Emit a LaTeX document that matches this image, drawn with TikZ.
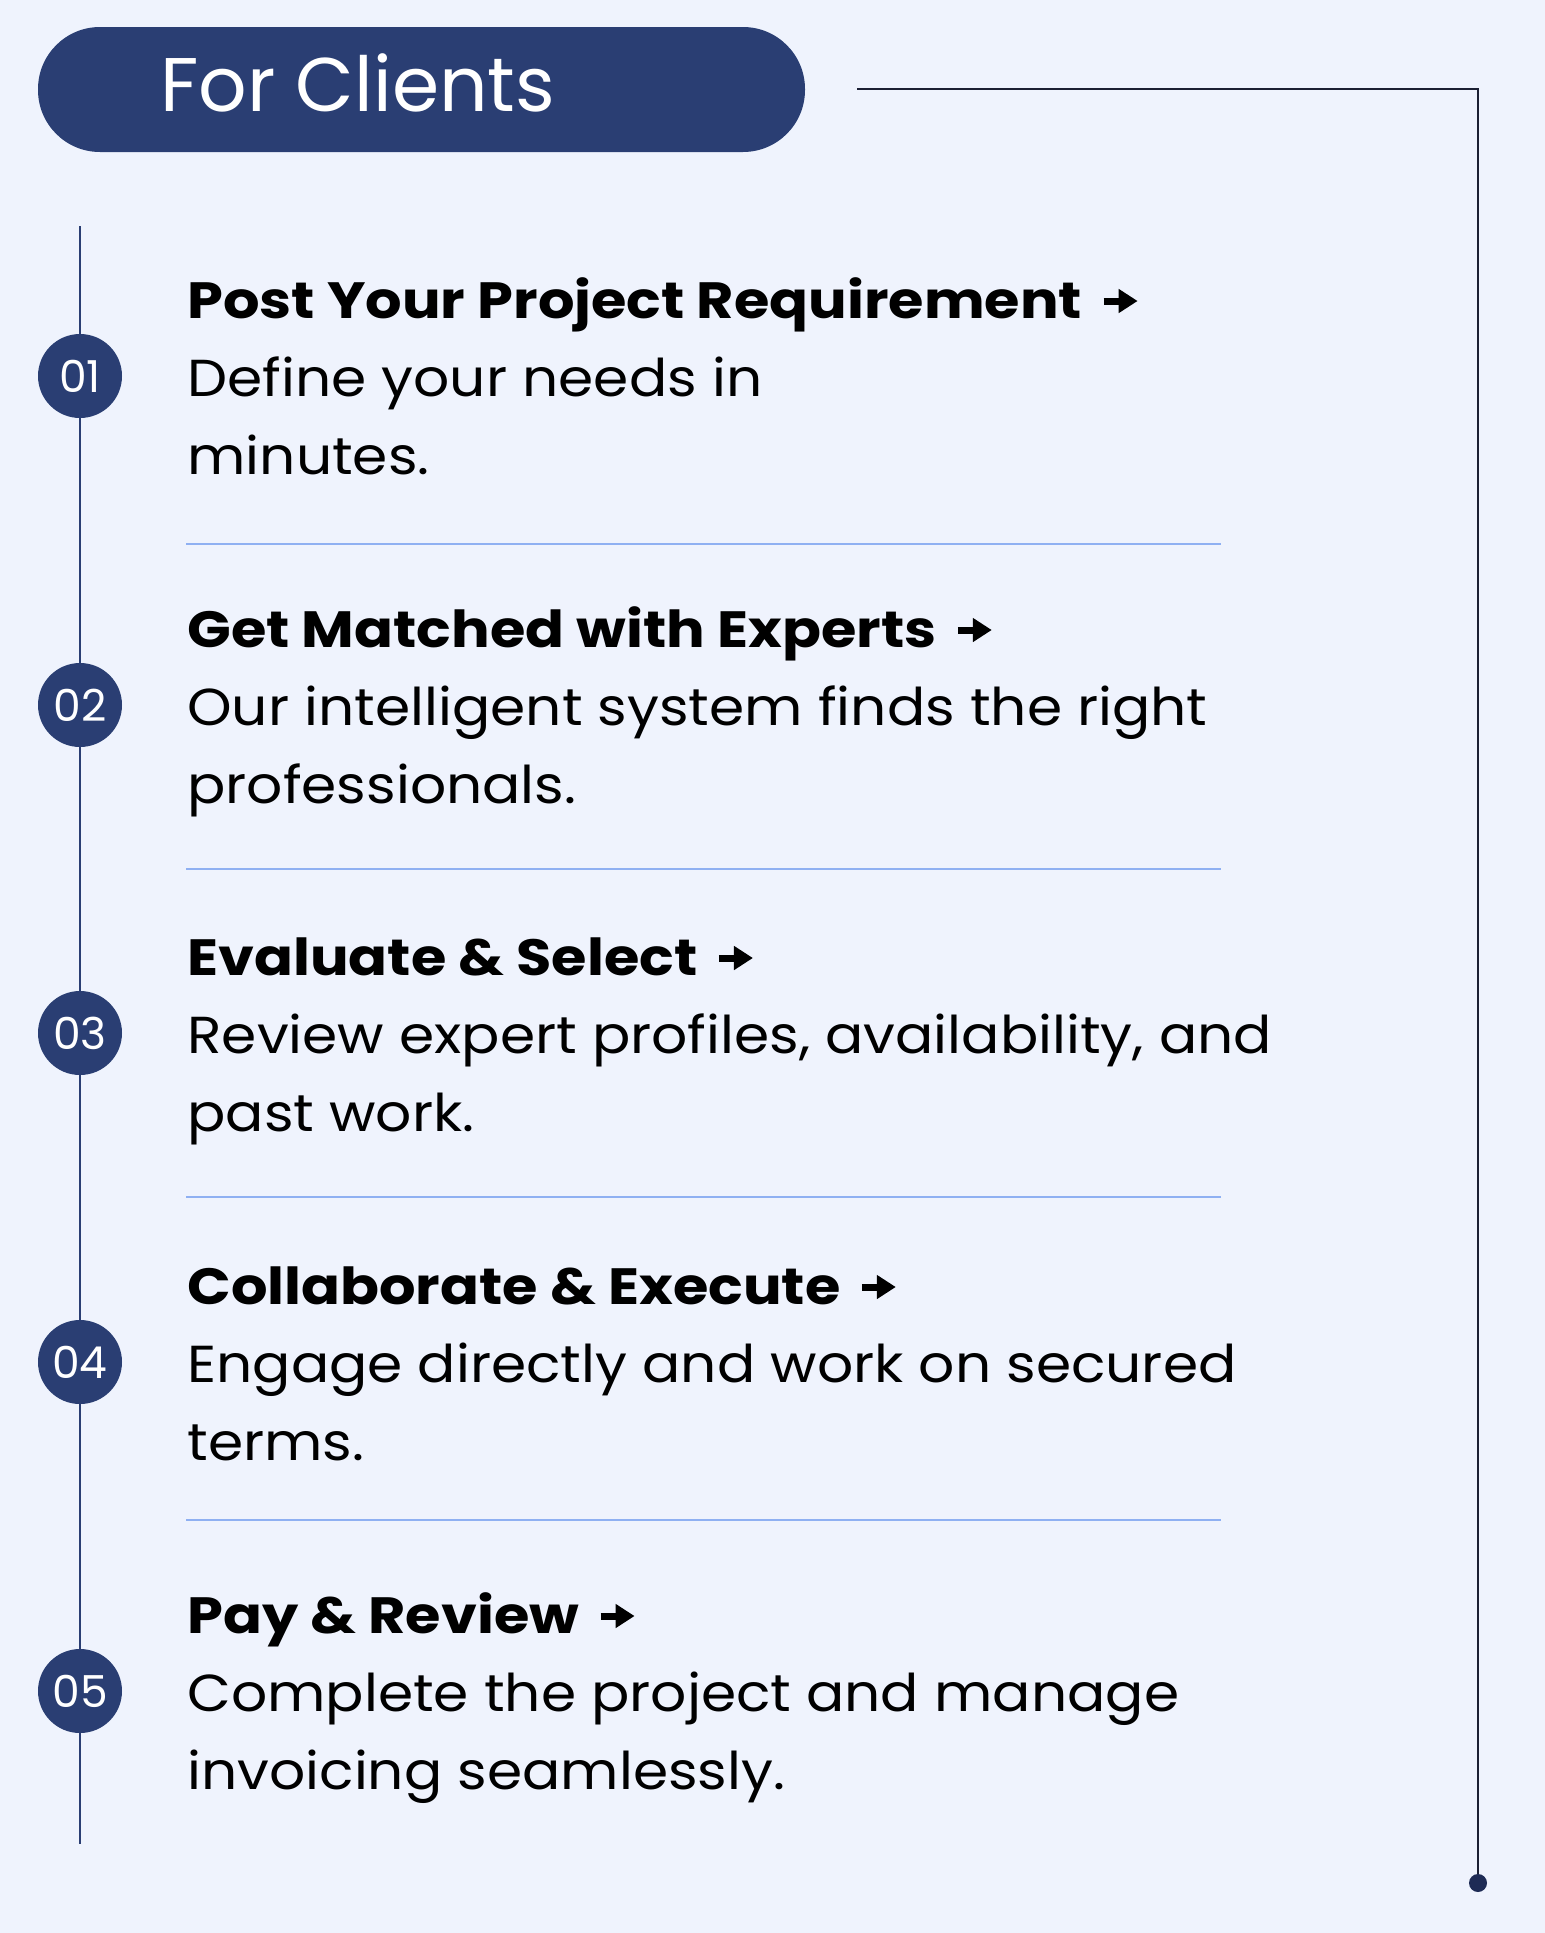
\documentclass[tikz,border=0pt]{standalone}
\usepackage{fontspec}
\setmainfont{Poppins}
\newfontfamily\bodyfont[FakeStretch=1.09]{Poppins}
\newfontfamily\titlefont[FakeStretch=1.125]{Poppins Bold}
\usetikzlibrary{arrows.meta}
\definecolor{bgc}{RGB}{239,243,253}
\definecolor{navy}{RGB}{42,62,115}
\definecolor{sepc}{RGB}{143,176,242}
\definecolor{darkline}{RGB}{27,31,51}
\definecolor{dotc}{RGB}{30,43,85}
\tikzset{
  headtext/.style={anchor=base west,inner sep=0,text=white,font=\fontsize{38}{44}\selectfont},
  circ/.style={circle,fill=navy,minimum size=42pt,inner sep=0,text=white,font=\fontsize{22}{24}\selectfont},
  ttl/.style={anchor=base west,inner sep=0,font=\titlefont\fontsize{25.5}{30}\selectfont},
  bdy/.style={anchor=base west,inner sep=0,font=\bodyfont\fontsize{26}{30}\selectfont},
  sep/.style={draw=sepc,line width=1pt},
  vline/.style={draw=navy,line width=1pt},
  tarrow/.style={line width=3.5pt,-{Triangle[length=9.5pt,width=11.5pt]}},
}
\begin{document}
\begin{tikzpicture}[x=0.5pt,y=-0.5pt]
\fill[bgc] (0,0) rectangle (1545,1933);
\useasboundingbox (0,0) rectangle (1545,1933);
% header
\node[fill=navy,rounded corners=31pt,minimum width=383.5pt,minimum height=62.5pt,inner sep=0] (head) at (421.5,89.5) {};
\node[headtext] (headt) at (160,111) {For Clients};
% right connector
\coordinate (rstart) at (857,89);
\node[circle,fill=dotc,minimum size=9pt,inner sep=0] (enddot) at (1478,1883) {};
\draw[darkline,line width=1.1pt] (rstart) -| (enddot);
% left timeline
\coordinate (ltop) at (80,226);
\coordinate (lbot) at (80,1844);
\draw[vline] (ltop) -- (lbot);
% items
\node[circ] (c1) at (80,376) {01};
\node[circ] (c2) at (80,705) {02};
\node[circ] (c3) at (80,1033) {03};
\node[circ] (c4) at (80,1362) {04};
\node[circ] (c5) at (80,1691) {05};
\node[ttl] (t1) at (187,318) {Post Your Project Requirement};
\node[bdy] (b1a) at (187,396) {Define your needs in};
\node[bdy] (b1b) at (187,474) {minutes.};
\node[ttl] (t2) at (187,647) {Get Matched with Experts};
\node[bdy] (b2a) at (187,725) {Our intelligent system finds the right};
\node[bdy] (b2b) at (187,803) {professionals.};
\node[ttl] (t3) at (187,975) {Evaluate \& Select};
\node[bdy] (b3a) at (187,1053) {Review expert profiles, availability, and};
\node[bdy] (b3b) at (187,1131) {past work.};
\node[ttl] (t4) at (187,1304) {Collaborate \& Execute};
\node[bdy] (b4a) at (187,1382) {Engage directly and work on secured};
\node[bdy] (b4b) at (187,1460) {terms.};
\node[ttl] (t5) at (187,1633) {Pay \& Review};
\node[bdy] (b5a) at (187,1711) {Complete the project and manage};
\node[bdy] (b5b) at (187,1789) {invoicing seamlessly.};
\foreach \t in {t1,t2,t3,t4,t5}
  \draw[tarrow] ([xshift=10.5pt,yshift=8.5pt]\t.base east) -- ++(17pt,0);
% separators
\foreach \y [count=\i] in {544,869,1197,1520} {
  \coordinate (sa\i) at (186,\y);
  \coordinate (sb\i) at (1221,\y);
  \draw[sep] (sa\i) -- (sb\i);
}
\end{tikzpicture}
\end{document}
